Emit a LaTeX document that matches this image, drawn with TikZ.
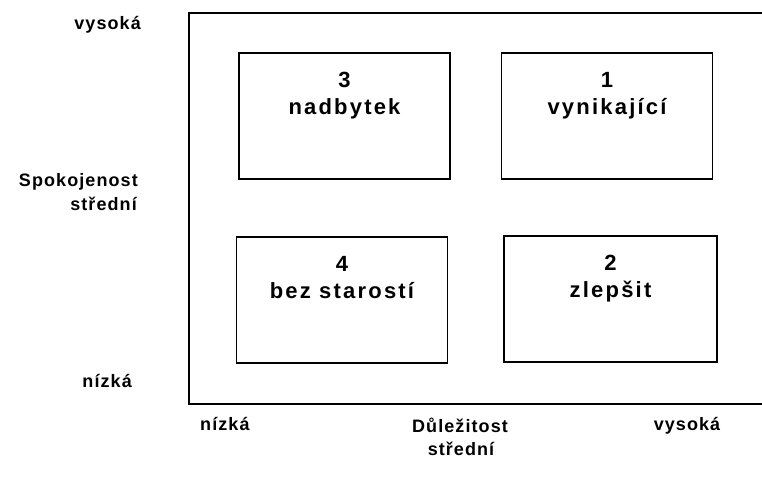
\documentclass[tikz,border=0pt]{standalone}
\usepackage{fontspec}
\setmainfont{Liberation Sans}
\usetikzlibrary{positioning}

\begin{document}
\begin{tikzpicture}[
  x=1pt, y=-1pt,
  quadrant/.style={draw, line width=1.6pt, minimum width=211pt, minimum height=126pt, inner sep=0pt},
  qtext/.style={anchor=north, align=center, inner sep=0pt, yshift=-20pt,
    font=\fontsize{22}{27}\selectfont\bfseries\addfontfeatures{LetterSpace=10}},
  axis/.style={inner sep=0pt, font=\fontsize{18}{23}\selectfont\bfseries\addfontfeatures{LetterSpace=6}}
]
\useasboundingbox (0,0) rectangle (762,480);
\clip (0,0) rectangle (762,480);

% outer frame runs off the right edge
\draw[line width=1.6pt] (189,13) rectangle (765,404);

\node[quadrant] (q3) at (344.5,116) {};
\node[quadrant] (q1) at (607,116) {};
\node[quadrant] (q4) at (342,300) {};
\node[quadrant, minimum width=213pt] (q2) at (610.5,299) {};

\node[qtext] (t3) at (q3.north) {3\\nadbytek};
\node[qtext] (t1) at (q1.north) {1\\vynikající};
\node[qtext] (t4) at (q4.north) {4\\bez starostí};
\node[qtext] (t2) at (q2.north) {2\\zlepšit};

% vertical axis
\node[axis, anchor=base east] (yhigh) at (141,29) {vysoká};
\node[axis, anchor=base east] (ytitle) at (138,186) {Spokojenost};
\node[axis, anchor=base east] (ymid) at (137,210) {střední};
\node[axis, anchor=base east] (ylow) at (132,387) {nízká};

% horizontal axis
\node[axis, anchor=base west] (xlow) at (200,430) {nízká};
\node[axis, anchor=base] (xtitle) at (460,432) {Důležitost};
\node[axis, anchor=base] (xmid) at (461,455) {střední};
\node[axis, anchor=base] (xhigh) at (687,430) {vysoká};
\end{tikzpicture}
\end{document}
